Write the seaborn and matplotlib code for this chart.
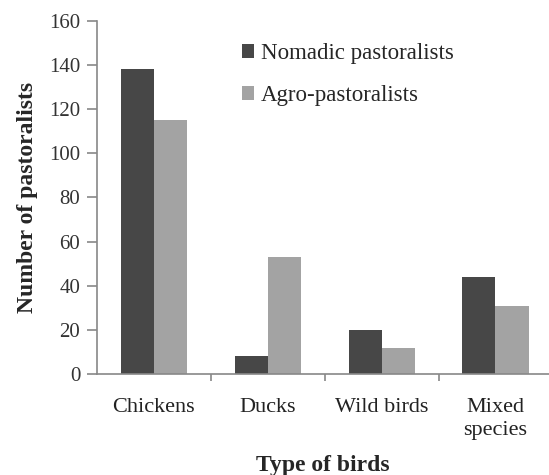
import matplotlib
matplotlib.use("Agg")
import matplotlib.pyplot as plt
import seaborn as sns
import pandas as pd
import numpy as np
from matplotlib.ticker import FixedLocator

categories = ["Chickens", "Ducks", "Wild birds", "Mixed\nspecies"]
nomadic = [138, 8, 20, 44]
agro = [115, 53, 12, 31]
series_names = ["Nomadic pastoralists", "Agro-pastoralists"]
yticks = [0, 20, 40, 60, 80, 100, 120, 140, 160]

df = pd.DataFrame({
    "cat": categories * 2,
    "val": nomadic + agro,
    "series": [series_names[0]] * 4 + [series_names[1]] * 4,
})

sns.set_style("white")
plt.rcParams["font.family"] = ["Liberation Serif", "DejaVu Serif"]

fig = plt.figure(figsize=(5.49, 4.75), dpi=100)
ax = fig.add_axes([0.1767, 0.2126, 0.8233, 0.7434])

sns.barplot(data=df, x="cat", y="val", hue="series", order=categories,
            hue_order=series_names, palette=["#474747", "#a3a3a3"],
            width=0.58, saturation=1, ax=ax, edgecolor="none", linewidth=0)

ax.set_xlim(-0.5, 3.47)
ax.set_ylim(0, 160)
ax.set_yticks(yticks)
ax.tick_params(axis="y", left=True, direction="out", length=7, color="#888888", width=1.2,
               labelsize=15, labelcolor="#333333", pad=5)
ax.tick_params(axis="x", which="major", bottom=False, length=0, labelsize=16,
               labelcolor="#222222", pad=17)
ax.xaxis.set_minor_locator(FixedLocator([0.5, 1.5, 2.5]))
ax.tick_params(axis="x", which="minor", bottom=True, direction="out", length=5,
               color="#888888", width=1.2)
for lbl in ax.get_xticklabels():
    lbl.set_linespacing(1.3)

for s in ["top", "right"]:
    ax.spines[s].set_visible(False)
for s in ["left", "bottom"]:
    ax.spines[s].set_color("#888888")
    ax.spines[s].set_linewidth(1.2)

ax.set_ylabel("Number of pastoralists", fontsize=17, fontweight="bold", labelpad=8)
ax.set_xlabel("Type of birds", fontsize=17, fontweight="bold", labelpad=11)

leg = ax.legend(loc="upper left", bbox_to_anchor=(0.3, 0.962), frameon=False,
                fontsize=16.5, handlelength=0.55, handleheight=0.55,
                handletextpad=0.3, labelspacing=0.9, borderaxespad=0)

fig.savefig("out.png", dpi=100)
